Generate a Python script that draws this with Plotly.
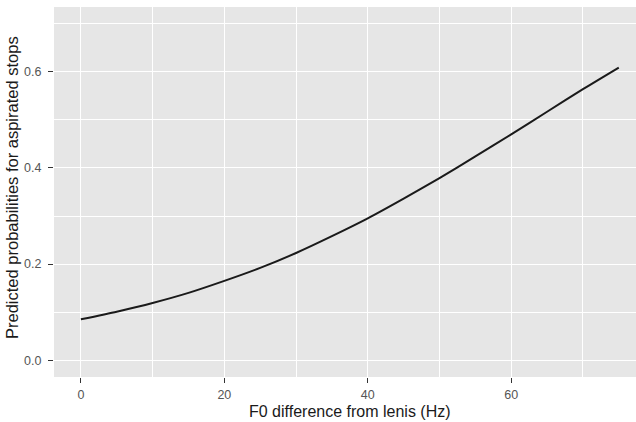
import plotly.graph_objects as go

# Data
f0_diff = [0, 5, 10, 15, 20, 25, 30, 35, 40, 45, 50, 55, 60, 65, 70, 75]
prob = [0.085, 0.101, 0.119, 0.140, 0.165, 0.192, 0.223, 0.258, 0.295,
        0.336, 0.379, 0.424, 0.470, 0.517, 0.564, 0.609]

x_ticks = [0, 20, 40, 60]
y_ticks = [0.0, 0.2, 0.4, 0.6]
y_tick_labels = ["0.0", "0.2", "0.4", "0.6"]

x_title = "F0 difference from lenis (Hz)"
y_title = "Predicted probabilities for aspirated stops"

fig = go.Figure()
fig.add_trace(go.Scatter(
    x=f0_diff, y=prob, mode="lines",
    line=dict(color="#1a1a1a", width=2, shape="spline", smoothing=0.6),
    showlegend=False, hoverinfo="skip",
))

W, H = 636, 422
ml, mr, mt, mb = 54, 0, 7, 45

axis_common = dict(
    showline=False, zeroline=False,
    showgrid=True, gridcolor="white", gridwidth=1.3,
    ticks="outside", ticklen=5, tickwidth=1.2, tickcolor="#333333",
    tickfont=dict(family="Liberation Sans, Arial, sans-serif", size=12.5, color="#555555"),
)

fig.update_layout(
    width=W, height=H,
    margin=dict(l=ml, r=mr, t=mt, b=mb, pad=0),
    paper_bgcolor="white", plot_bgcolor="#E6E6E6",
    xaxis=dict(
        range=[-3.75, 77.4], tickvals=x_ticks, ticktext=[str(v) for v in x_ticks],
        minor=dict(showgrid=True, gridcolor="white", gridwidth=0.7, tickvals=[10, 30, 50, 70], ticks=""),
        ticklabelstandoff=1,
        **axis_common,
    ),
    yaxis=dict(
        range=[-0.035, 0.735], tickvals=y_ticks, ticktext=y_tick_labels,
        minor=dict(showgrid=True, gridcolor="white", gridwidth=0.7, tickvals=[0.1, 0.3, 0.5, 0.7], ticks=""),
        ticklabelstandoff=4,
        **axis_common,
    ),
    font=dict(family="Liberation Sans, Arial, sans-serif"),
    annotations=[
        dict(text=x_title, xref="paper", yref="paper",
             x=(350 - ml) / (W - ml - mr), y=0, yshift=-34,
             xanchor="center", yanchor="middle", showarrow=False,
             font=dict(size=16, color="#1a1a1a")),
        dict(text=y_title, xref="paper", yref="paper",
             x=0, xshift=-42, y=(H - mb - 188) / (H - mt - mb),
             xanchor="center", yanchor="middle", textangle=-90, showarrow=False,
             font=dict(size=16.5, color="#1a1a1a")),
    ],
)

fig.write_html("out.html")
